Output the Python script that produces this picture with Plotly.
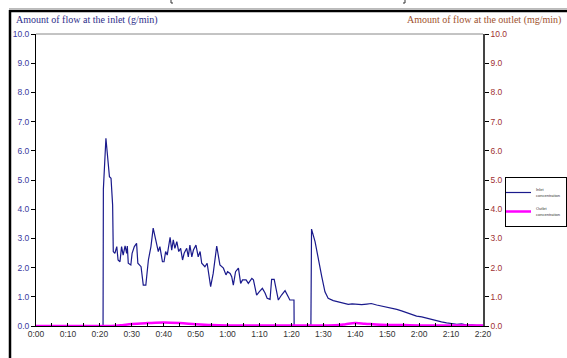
import plotly.graph_objects as go

# ---- data (time in minutes, values) ----
inlet_t = [0, 10, 21.0, 21.1, 21.9, 23.0, 23.5, 24.0, 24.2, 24.7, 25.3, 25.7, 26.3, 26.8, 27.3, 27.9, 28.4, 28.6, 28.9,
           29.7, 30.1, 30.8, 31.5, 31.9, 32.4, 32.9, 33.6, 34.4, 35.2, 36.0, 36.7, 37.6, 38.3, 38.8, 39.6, 40.1,
           40.6, 41.1, 42.0, 42.5, 43.0, 43.5, 44.1, 44.7, 45.3, 45.9, 46.4, 47.2, 47.7, 48.2, 48.8, 49.3, 50.1,
           50.8, 51.4, 51.9, 52.9, 53.6, 54.7, 55.5, 56.6, 57.6, 58.7, 59.5, 60.0, 60.8, 61.3, 61.8, 62.5, 63.4,
           64.1, 64.7, 65.8, 66.5, 67.6, 68.1, 69.1, 69.9, 70.9, 71.7, 72.4, 73.3, 73.8, 74.6, 75.4, 75.9, 76.9,
           78.0, 79.0, 79.5, 80.8, 80.85, 86.1, 86.3, 87.4, 88.4, 89.5, 90.5, 91.5, 93.1, 95.2, 97.8, 99.0, 100.4,
           102.0, 103.6, 105.0, 106.7, 108.0, 109.8, 111.5, 113.0, 114.5, 116.1, 117.5, 119.2, 120.8, 122.4, 124.0,
           125.5, 127.0, 128.6, 130.2, 131.8, 133.3, 134.9, 136.5, 138.0, 140.0]
inlet_v = [0, 0, 0, 4.68, 6.43, 5.11, 5.06, 4.14, 2.55, 2.49, 2.72, 2.26, 2.20, 2.72, 2.43, 2.74, 2.49, 2.74, 2.15,
           2.09, 2.49, 2.72, 2.83, 2.15, 2.09, 2.03, 1.40, 1.40, 2.26, 2.72, 3.35, 2.83, 2.55, 2.72, 2.20, 2.20,
           2.55, 2.43, 3.04, 2.60, 2.95, 2.66, 2.89, 2.55, 2.66, 2.26, 2.49, 2.66, 2.37, 2.77, 2.37, 2.60, 2.77,
           2.37, 2.55, 2.15, 2.03, 2.15, 1.35, 1.80, 2.74, 2.09, 1.98, 1.75, 1.86, 1.80, 1.69, 1.40, 1.86, 1.98,
           1.46, 1.58, 1.58, 1.46, 1.63, 1.58, 1.06, 1.17, 1.29, 1.14, 0.95, 0.91, 1.60, 1.60, 1.12, 0.89, 1.06,
           1.21, 1.00, 0.89, 0.89, 0, 0, 3.32, 2.89, 2.26, 1.69, 1.17, 0.95, 0.87, 0.80, 0.74, 0.76, 0.74,
           0.73, 0.75, 0.77, 0.72, 0.69, 0.64, 0.62, 0.57, 0.52, 0.46, 0.41, 0.34, 0.31, 0.26, 0.22,
           0.18, 0.14, 0.11, 0.09, 0.06, 0.07, 0.03, 0.04, 0.02, 0.02]

outlet_t = [0, 20, 25, 27, 30, 35, 40, 45, 50, 55, 60, 70, 80, 90, 95, 97, 100, 103, 108, 115, 120, 130, 140]
outlet_v = [0.0, 0.0, 0.01, 0.03, 0.07, 0.10, 0.12, 0.10, 0.06, 0.03, 0.02, 0.02, 0.02, 0.02, 0.03, 0.06,
            0.10, 0.08, 0.04, 0.03, 0.02, 0.02, 0.02]

x_tickvals = [0, 10, 20, 30, 40, 50, 60, 70, 80, 90, 100, 110, 120, 130, 140]
x_ticktext = ["0:00", "0:10", "0:20", "0:30", "0:40", "0:50", "1:00", "1:10", "1:20", "1:30", "1:40",
              "1:50", "2:00", "2:10", "2:20"]
y_tickvals = [0, 1, 2, 3, 4, 5, 6, 7, 8, 9, 10]
y_ticktext = ["0.0", "1.0", "2.0", "3.0", "4.0", "5.0", "6.0", "7.0", "8.0", "9.0", "10.0"]

fig = go.Figure()
fig.add_trace(go.Scatter(x=inlet_t, y=inlet_v, mode="lines", name="Inlet<br>concentration",
                         line=dict(color="#1a1a8c", width=1.2)))
fig.add_trace(go.Scatter(x=outlet_t, y=outlet_v, mode="lines", name="Outlet<br>concentration",
                         line=dict(color="#ff00ff", width=2.5, shape="spline"), yaxis="y2"))

W, H = 567, 358
L, R, T, B = 36, 84, 34, 32
pw, ph = W - L - R, H - T - B

def px(x):
    return (x - L) / pw

def py(y):
    return (H - B - y) / ph

fig.update_layout(
    width=W, height=H,
    margin=dict(l=L, r=R, t=T, b=B, autoexpand=False),
    paper_bgcolor="white", plot_bgcolor="white",
    font=dict(family="Liberation Sans, Arial", size=8, color="#333333"),
    showlegend=True,
    legend=dict(x=px(505), y=py(177), xanchor="left", yanchor="top",
                font=dict(size=4, color="#333333"), bordercolor="black", borderwidth=1,
                bgcolor="white", tracegroupgap=0, itemwidth=30,
                indentation=-10),
    xaxis=dict(range=[0, 140], tickvals=x_tickvals, ticktext=x_ticktext, showgrid=False, zeroline=False,
               showline=True, linecolor="black", linewidth=1, ticks="inside", ticklen=3, tickcolor="black",
               minor=dict(dtick=5, tick0=0, ticks="inside", ticklen=3, tickcolor="black"),
               tickfont=dict(size=8.5, color="#333333")),
    yaxis=dict(range=[0, 10], tickvals=y_tickvals, ticktext=y_ticktext, showgrid=False, zeroline=False,
               showline=True, linecolor="black", linewidth=1, ticks="outside", ticklen=4, tickcolor="black",
               tickfont=dict(size=8.5, color="#3a3aa0")),
    yaxis2=dict(range=[0, 10], tickvals=y_tickvals, ticktext=y_ticktext, overlaying="y", side="right",
                showgrid=False, zeroline=False, showline=True, linecolor="#444444", linewidth=1.5,
                ticks="outside", ticklen=4, tickcolor="black",
                tickfont=dict(size=8.5, color="#a03030")),
    annotations=[
        dict(text="Amount of flow at the inlet (g/min)", x=px(14), y=py(20), xref="paper", yref="paper",
             xanchor="left", yanchor="middle", showarrow=False,
             font=dict(family="Liberation Serif, Times New Roman", size=10, color="#2e2e8a")),
        dict(text="Amount of flow at the outlet (mg/min)", x=px(563), y=py(20), xref="paper", yref="paper",
             xanchor="right", yanchor="middle", showarrow=False,
             font=dict(family="Liberation Serif, Times New Roman", size=10, color="#a0522d")),
    ],
    shapes=[
        # plot-area top border
        dict(type="line", xref="paper", yref="paper", x0=0, x1=1, y0=1, y1=1,
             line=dict(color="#888888", width=1)),
        # outer frame (top & left)
        dict(type="line", xref="paper", yref="paper", x0=px(9), x1=px(567), y0=py(11), y1=py(11),
             line=dict(color="black", width=2.5)),
        dict(type="line", xref="paper", yref="paper", x0=px(9), x1=px(567), y0=py(8.5), y1=py(8.5),
             line=dict(color="#bbbbbb", width=1)),
        dict(type="line", xref="paper", yref="paper", x0=px(10), x1=px(10), y0=py(10), y1=py(360),
             line=dict(color="black", width=2.5)),
        # cut-off bracket feet at the very top
        dict(type="path", xref="paper", yref="paper",
             path=f"M {px(173)} {py(-1)} L {px(171)} {py(-1)} L {px(171)} {py(3)} L {px(173)} {py(3)}",
             line=dict(color="#333333", width=1)),
        dict(type="path", xref="paper", yref="paper",
             path=f"M {px(403)} {py(-1)} L {px(405)} {py(-1)} L {px(405)} {py(3)} L {px(403)} {py(3)}",
             line=dict(color="#333333", width=1)),
    ],
)

fig.write_html("out.html")
